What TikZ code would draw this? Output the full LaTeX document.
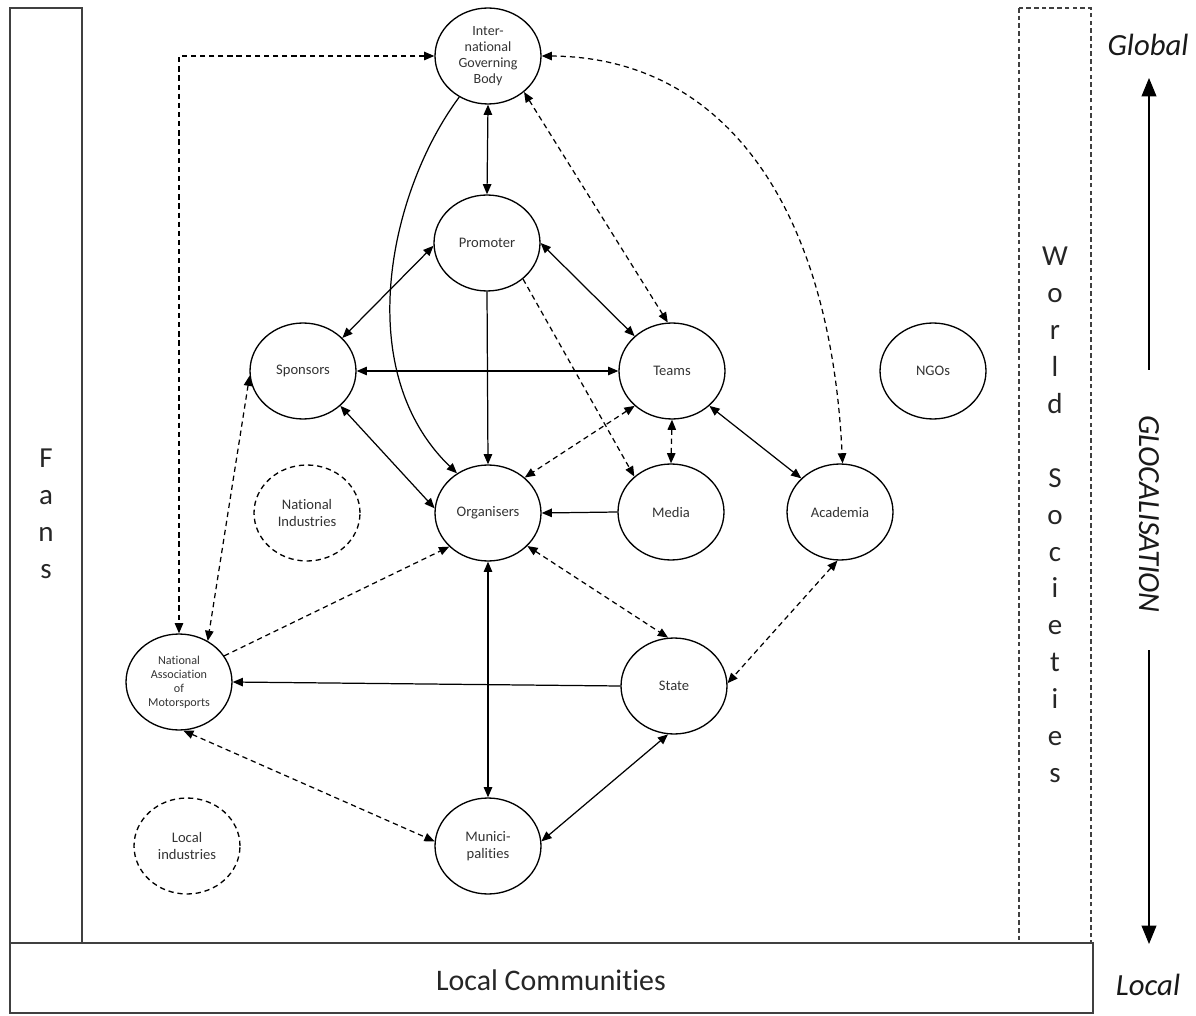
\documentclass[tikz,border=0pt]{standalone}
\usepackage{fontspec}
\setmainfont{Carlito}[Ligatures=NoCommon]
\usetikzlibrary{arrows.meta,shapes.geometric}

\begin{document}
\begin{tikzpicture}[x=0.02cm,y=-0.02cm,
  >={Triangle[length=5.8pt,width=4.8pt]},
  actor/.style={ellipse, draw, line width=0.75pt, minimum width=2.12cm,
    minimum height=1.92cm, inner sep=0pt, align=center, text=black!80,
    font=\fontsize{8.3}{9.9}\selectfont},
  latent/.style={actor, dash pattern=on 3pt off 2.2pt},
  rel/.style={line width=0.7pt},
  loose/.style={line width=0.7pt, dash pattern=on 3pt off 2.2pt},
  frame/.style={line width=0.9pt, draw=black!75},
  bigtext/.style={text=black!85, font=\fontsize{17}{21}\selectfont},
  stack/.style={text=black!85, align=center, font=\fontsize{16.5}{21}\selectfont},
  scaletext/.style={text=black!90, font=\fontsize{17.5}{21}\selectfont\itshape}
]
\useasboundingbox (0,0) rectangle (1196,1016);

% side and base bands
\draw[frame] (10,8) rectangle (82,943);
\draw[line width=0.6pt, draw=black!75, dash pattern=on 2.6pt off 1.8pt] (1019,8) rectangle (1091,943);
\draw[frame] (10,943) rectangle (1093,1013);
\node[stack] (fans) at (46,514) {F\\a\\n\\s};
\node[stack] (world) at (1055,515)
  {W\\o\\r\\l\\d\\[21pt]S\\o\\c\\i\\e\\t\\i\\e\\s};
\node[bigtext] (locals) at (551,980) {Local Communities};

% global--local scale
\node[scaletext] (global) at (1148,45) {Global};
\node[scaletext] (local) at (1148,985) {Local};
\node[scaletext, rotate=-90] (glocal) at (1149,514) {GLOCALISATION};
\coordinate (gtop) at (1149,78);
\coordinate (gbot) at (1149,944);
\coordinate (gup) at (1149,370);
\coordinate (gdown) at (1149,650);
\draw[line width=0.6pt, -{Triangle[length=10.5pt,width=8.5pt]}] (gup) -- (gtop);
\draw[line width=0.6pt, -{Triangle[length=10.5pt,width=8.5pt]}] (gdown) -- (gbot);

% actors
\node[actor, font=\fontsize{8}{9}\selectfont] (igb) at (488,56) {Inter-\\national\\Governing\\Body};
\node[actor] (promoter) at (487,243) {Promoter};
\node[actor] (sponsors) at (303,371) {Sponsors};
\node[actor] (teams) at (672,371) {Teams};
\node[actor] (ngos) at (933,371) {NGOs};
\node[latent] (natind) at (307,513) {National\\Industries};
\node[actor] (org) at (488,513) {Organisers};
\node[actor] (media) at (671,512) {Media};
\node[actor] (acad) at (840,512) {Academia};
\node[actor, font=\fontsize{6.9}{7.9}\selectfont] (nam) at (179,682) {National\\Association\\of\\Motorsports};
\node[actor] (state) at (674,686) {State};
\node[actor] (muni) at (488,846) {Munici-\\palities};
\node[latent] (locind) at (187,846) {Local\\industries};

% solid relations
\draw[rel, <->] (igb.south) -- (promoter.north);
\draw[rel, ->] (igb.-125) .. controls (390,190) and (350,370) .. (org.128);
\draw[rel, ->] (promoter.south) -- (org.north);
\draw[rel, <->] (promoter.183) -- (sponsors.40);
\draw[rel, <->] (promoter.east) -- (teams.137);
\draw[rel, <->] (sponsors.east) -- (teams.west);
\draw[rel, <->] (sponsors.-43) -- (org.175);
\draw[rel, <->] (teams.-43) -- (acad.139);
\draw[rel, ->] (media.west) -- (org.east);
\draw[rel, ->] (state.west) -- (nam.east);
\draw[rel, <->] (org.south) -- (muni.north);
\draw[rel, <->] (state.-97) -- (muni.5);

% dashed relations
\draw[loose, <->] (igb.west) -| (nam.north);
\draw[loose, <->] (igb.-45) -- (teams.95);
\draw[loose, <->] (igb.east) .. controls (720,57) and (830,200) .. (acad.87);
\draw[loose, ->] (promoter.-45) -- (media.136);
\draw[loose, <->] (teams.223) -- (org.44);
\draw[loose, <->] (teams.south) -- (media.north);
\draw[loose, <->] (sponsors.185) -- (nam.55);
\draw[loose, ->] (nam.30) -- (org.221);
\draw[loose, <->] (org.-40) -- (state.97);
\draw[loose, <->] (acad.-93) -- (state.3);
\draw[loose, <->] (nam.-85) -- (muni.175);
\end{tikzpicture}
\end{document}
